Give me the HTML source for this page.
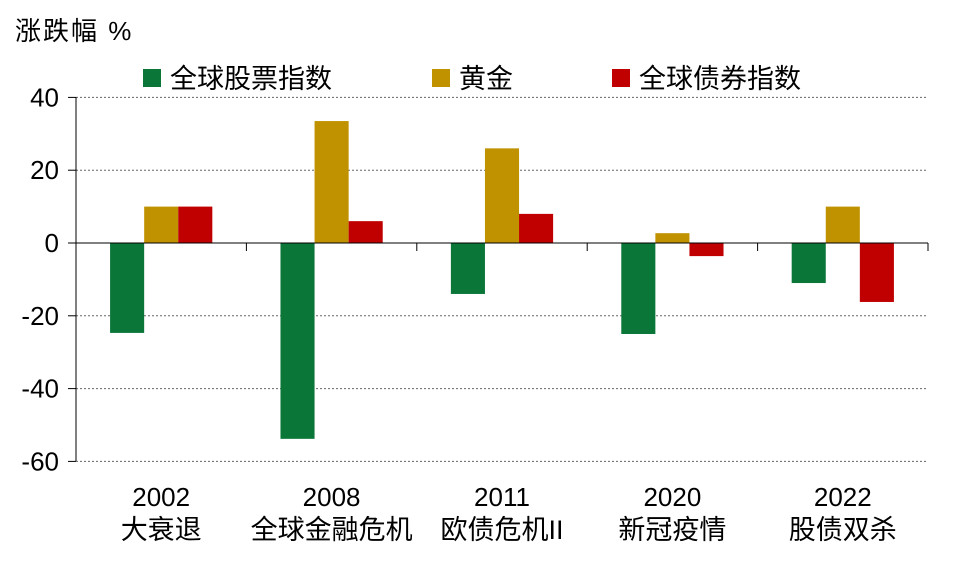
<!DOCTYPE html>
<html><head><meta charset="utf-8"><style>
body{margin:0;background:#fff;}
svg{display:block;font-family:"Liberation Sans","Noto Sans CJK SC",sans-serif;}
</style></head><body>
<svg id="c" width="977" height="569"></svg>
<script>
const categories=["2002","2008","2011","2020","2022"];
const catNames=["大衰退","全球金融危机","欧债危机II","新冠疫情","股债双杀"];
const stocks=[-24.7,-53.8,-14,-25,-11];
const gold=[10,33.5,26,2.7,10];
const bonds=[10,6,8,-3.6,-16.2];
const yTicks=[40,20,0,-20,-40,-60];
const seriesNames=["全球股票指数","黄金","全球债券指数"];
const colors=["#0a7638","#c09200","#c00000"];
const svg=document.getElementById('c');
const NS="http://www.w3.org/2000/svg";
const x0=76,x1=928,yTop=97,yBot=461;
const ys=v=>243-(v)*3.64;
const gw=(x1-x0)/categories.length;
function el(t,a,txt){const e=document.createElementNS(NS,t);for(const k in a)e.setAttribute(k,a[k]);if(txt!=null)e.textContent=txt;svg.appendChild(e);return e;}
let t=el('text',{x:15,y:40,'font-size':26,fill:'#000','letter-spacing':'2'},'涨跌幅 %');


yTicks.forEach(v=>{
  if(v!==0){let g=el('line',{x1:x0,x2:x1,y1:ys(v),y2:ys(v),stroke:'#666','stroke-width':1,'stroke-dasharray':'2,2'});
  
  }
  let tk=el('line',{x1:68,x2:x0,y1:ys(v),y2:ys(v),stroke:'#000'});
  
  
  let l=el('text',{x:59,y:ys(v)+9,'font-size':26,'text-anchor':'end'},String(v));
  
  
});
const series=[stocks,gold,bonds];
categories.forEach((c,i)=>{
  const gx=x0+i*gw;
  series.forEach((s,j)=>{
    const v=s[i];const bx=gx+gw*0.2+j*gw*0.2;
    let r=el('rect',{x:bx,y:Math.min(ys(v),ys(0)),width:gw*0.2,height:Math.abs(ys(v)-ys(0)),fill:colors[j]});
    
    
  });
  let a=el('text',{x:gx+gw/2,y:506,'font-size':26,'text-anchor':'middle'},c);
  
  
  let b=el('text',{x:gx+gw/2,y:539,'font-size':27,'text-anchor':'middle'},catNames[i]);
  
  
  let tk=el('line',{x1:gx+gw,x2:gx+gw,y1:243,y2:251,stroke:'#000'});
  
  
});
let ax=el('line',{x1:x0,x2:x0,y1:yTop,y2:yBot,stroke:'#000'});


let zx=el('line',{x1:x0,x2:x1,y1:ys(0),y2:ys(0),stroke:'#000'});


const lx=[143,432,612];
seriesNames.forEach((n,j)=>{
  let r=el('rect',{x:lx[j],y:69,width:18,height:18,fill:colors[j]});
  
  
  let tx=el('text',{x:lx[j]+27,y:88,'font-size':27},n);
  
  
});
</script>
</body></html>
